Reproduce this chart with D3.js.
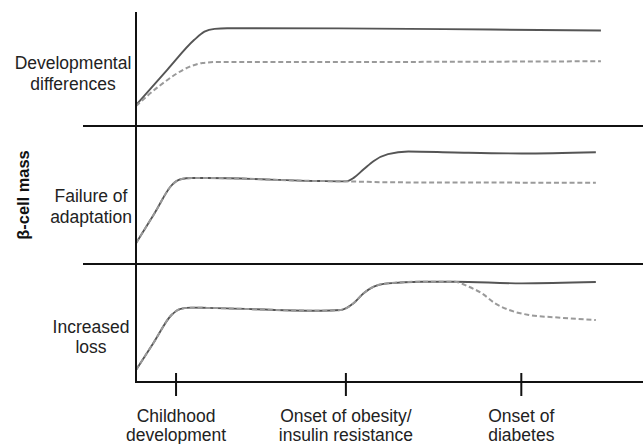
<!DOCTYPE html>
<html><head><meta charset="utf-8">
<script src="https://cdn.jsdelivr.net/npm/d3@7"></script>
<style>body{margin:0;background:#fff}svg{display:block}text{font-family:"Liberation Sans",Arial,sans-serif}</style>
</head><body><svg id="c" width="643" height="444"></svg>
<script>
// Time axis (0-100) and tick milestones
const tickTimes = [7.8, 41.3, 75.9];
const tickLabels = [["Childhood","development"],["Onset of obesity/","insulin resistance"],["Onset of","diabetes"]];
const panelLabels = [["Developmental","differences"],["Failure of","adaptation"],["Increased","loss"]];
const yTitle = "β-cell mass";

// Series: [time, relative β-cell mass (0-100 within panel)]
const solid1 = [[0,18.4],[6.2,49.5],[11.5,75.6],[13.5,82.8],[15.5,85.2],[18,85.7],[40,85.6],[70,84.6],[91.7,83.8]];
const dashed1 = [[0,17.5],[4.6,35.1],[10.5,51.8],[13.1,55.3],[16,56.1],[50,56.2],[91.7,56.8]];
const solid2 = [[0,15.1],[3.6,36.4],[7.2,57.7],[8.8,61.4],[11,62.3],[14,62.3],[36.4,60.1],[41.4,59.9],[43,62.6],[44.9,68.6],[46.9,74.7],[49.7,79.6],[53.7,81.5],[62.8,80.8],[76.1,80.1],[90.7,81]];
const dashed2 = [[0,15.1],[3.6,36.4],[7.2,57.7],[8.8,61.4],[11,62.3],[14,62.3],[36.4,60.1],[41.4,59.9],[50,59.2],[70,59],[90.7,58.9]];
const solid3 = [[0,10.2],[3.5,33.5],[7,56.8],[8.8,62],[11,63],[14,62.8],[36.4,60.4],[40.4,61],[42.9,66.7],[44.9,75.2],[46.9,80.8],[49.7,83.6],[56.3,85],[62.8,85],[76.1,83.6],[90.7,84.7]];
const dashed3 = [[0,10.2],[3.5,33.5],[7,56.8],[8.8,62],[11,63],[14,62.8],[36.4,60.4],[40.4,61],[42.9,66.7],[44.9,75.2],[46.9,80.8],[49.7,83.6],[56.3,85],[62.8,85],[65.6,80.8],[68.2,75.2],[70.8,66.7],[73.6,61],[77.5,56.8],[82.7,54.8],[90.7,52.5]];

const FS = 17.5;
const svg = d3.select("#c");
const x = d3.scaleLinear().domain([0,100]).range([136,643]);
const panels = [
  {top:12, bottom:126, solid:solid1, dashed:dashed1, lab:panelLabels[0], lx:73, ly:[63,84]},
  {top:126, bottom:264, solid:solid2, dashed:dashed2, lab:panelLabels[1], lx:91, ly:[196,217]},
  {top:264, bottom:382, solid:solid3, dashed:dashed3, lab:panelLabels[2], lx:91, ly:[327,347]}
];
panels.forEach(p=>{
  p.y = d3.scaleLinear().domain([0,100]).range([p.bottom,p.top]);
  const line = d3.line().x(d=>x(d[0])).y(d=>p.y(d[1])).curve(d3.curveMonotoneX);
  svg.append("path").attr("d",line(p.solid)).attr("fill","none").attr("stroke","#555").attr("stroke-width",1.9);
  svg.append("path").attr("d",line(p.dashed)).attr("fill","none").attr("stroke","#9a9a9a").attr("stroke-width",2).attr("stroke-dasharray","5,2.8");
  svg.append("text").attr("x",p.lx).attr("y",p.ly[0]).attr("dy","0.35em").attr("text-anchor","middle").attr("font-size",FS).attr("fill","#222").text(p.lab[0]);
  svg.append("text").attr("x",p.lx).attr("y",p.ly[1]).attr("dy","0.35em").attr("text-anchor","middle").attr("font-size",FS).attr("fill","#222").text(p.lab[1]);
});
// separators
[126,264].forEach(yy=>svg.append("line").attr("x1",83).attr("x2",643).attr("y1",yy).attr("y2",yy).attr("stroke","#111").attr("stroke-width",2));
// vertical axis
svg.append("line").attr("x1",136).attr("x2",136).attr("y1",12).attr("y2",383).attr("stroke","#111").attr("stroke-width",2);
// bottom axis
const axis = d3.axisBottom(x).tickValues(tickTimes).tickSize(0).tickFormat("");
const ag = svg.append("g").attr("transform","translate(0,382)").call(axis);
ag.select(".domain").attr("d",`M136,0H643`).attr("stroke","#111").attr("stroke-width",2);
ag.selectAll(".tick line").remove();
ag.selectAll(".tick").append("line").attr("y1",-9).attr("y2",14).attr("stroke","#111").attr("stroke-width",2);
ag.selectAll(".tick").each(function(d,i){
  const g = d3.select(this);
  g.append("text").attr("y",34).attr("dy","0.35em").attr("text-anchor","middle").attr("font-size",FS).attr("fill","#222").text(tickLabels[i][0]);
  g.append("text").attr("y",53).attr("dy","0.35em").attr("text-anchor","middle").attr("font-size",FS).attr("fill","#222").text(tickLabels[i][1]);
});
// y title
svg.append("text").attr("transform","translate(23,195) rotate(-90)").attr("dy","0.35em").attr("text-anchor","middle").attr("font-size",16.4).attr("font-weight","bold").attr("fill","#111").text(yTitle);
</script></body></html>
